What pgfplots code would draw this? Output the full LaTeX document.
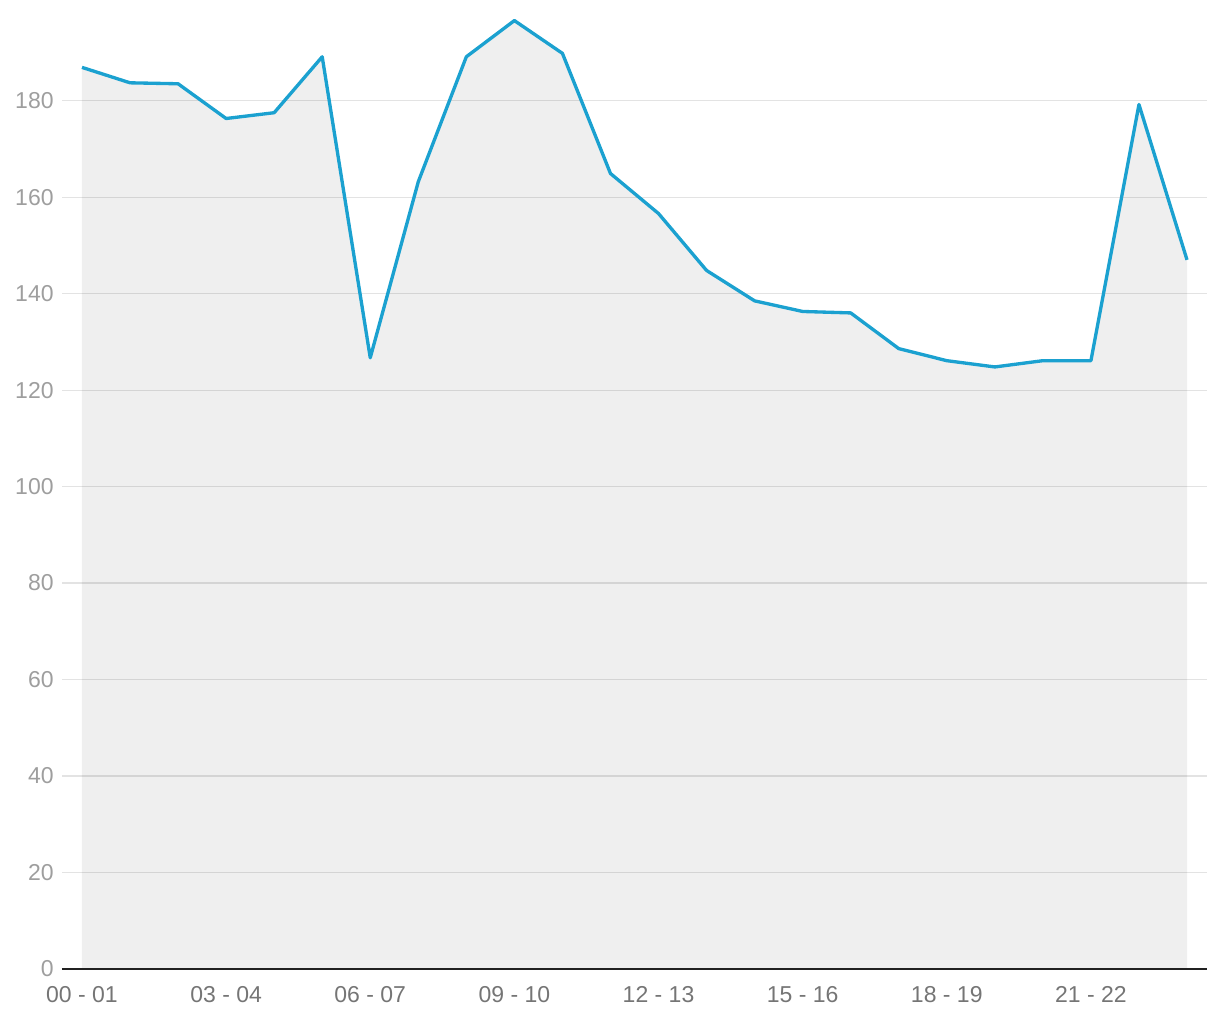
\documentclass[border=0pt]{standalone}
\usepackage{pgfplots}
\pgfplotsset{compat=1.18}
\usepackage{fontspec}
\setmainfont{Liberation Sans}
\definecolor{linec}{HTML}{1BA1D0}
\definecolor{gridc}{HTML}{E3E3E3}
\definecolor{ylab}{HTML}{9E9E9E}
\definecolor{xlab}{HTML}{757575}
\begin{document}
\begin{tikzpicture}[x=0.6pt,y=0.6pt]
\path[use as bounding box] (0,0) rectangle (1220,1020);
\begin{axis}[
  at={(62*0.6pt,51*0.6pt)}, anchor=south west,
  scale only axis, width=687pt, height=576pt,
  xmin=-0.416, xmax=23.416, ymin=0, ymax=199,
  axis line style={draw=none},
  ytick={0,20,...,180}, xtick={0,3,...,21},
  xticklabels={00 - 01,03 - 04,06 - 07,09 - 10,12 - 13,15 - 16,18 - 19,21 - 22},
  major tick length=0pt,
  ymajorgrids, grid style={gridc, line width=0.7pt},
  /pgf/number format/assume math mode=true,
  ticklabel style={font=\fontsize{13.8}{16}\selectfont},
  yticklabel style={ylab, xshift=-1.5pt},
  xticklabel style={xlab, yshift=-7pt},
  clip=false,
]
\addplot[draw=none, fill=black, fill opacity=0.063] coordinates {
(0,186.9) (1,183.7) (2,183.5) (3,176.3) (4,177.5) (5,189.1) (6,126.7) (7,163.2)
(8,189.1) (9,196.6) (10,189.8) (11,164.9) (12,156.6) (13,144.8) (14,138.5) (15,136.3)
(16,136.0) (17,128.6) (18,126.1) (19,124.8) (20,126.1) (21,126.1) (22,179.2) (23,147.0)
} \closedcycle;
\addplot[linec, line width=2pt, line join=round] coordinates {
(0,186.9) (1,183.7) (2,183.5) (3,176.3) (4,177.5) (5,189.1) (6,126.7) (7,163.2)
(8,189.1) (9,196.6) (10,189.8) (11,164.9) (12,156.6) (13,144.8) (14,138.5) (15,136.3)
(16,136.0) (17,128.6) (18,126.1) (19,124.8) (20,126.1) (21,126.1) (22,179.2) (23,147.0)
};
\draw[black!87, line width=1.3pt] (rel axis cs:0,0) -- (rel axis cs:1,0);
\end{axis}
\end{tikzpicture}
\end{document}
